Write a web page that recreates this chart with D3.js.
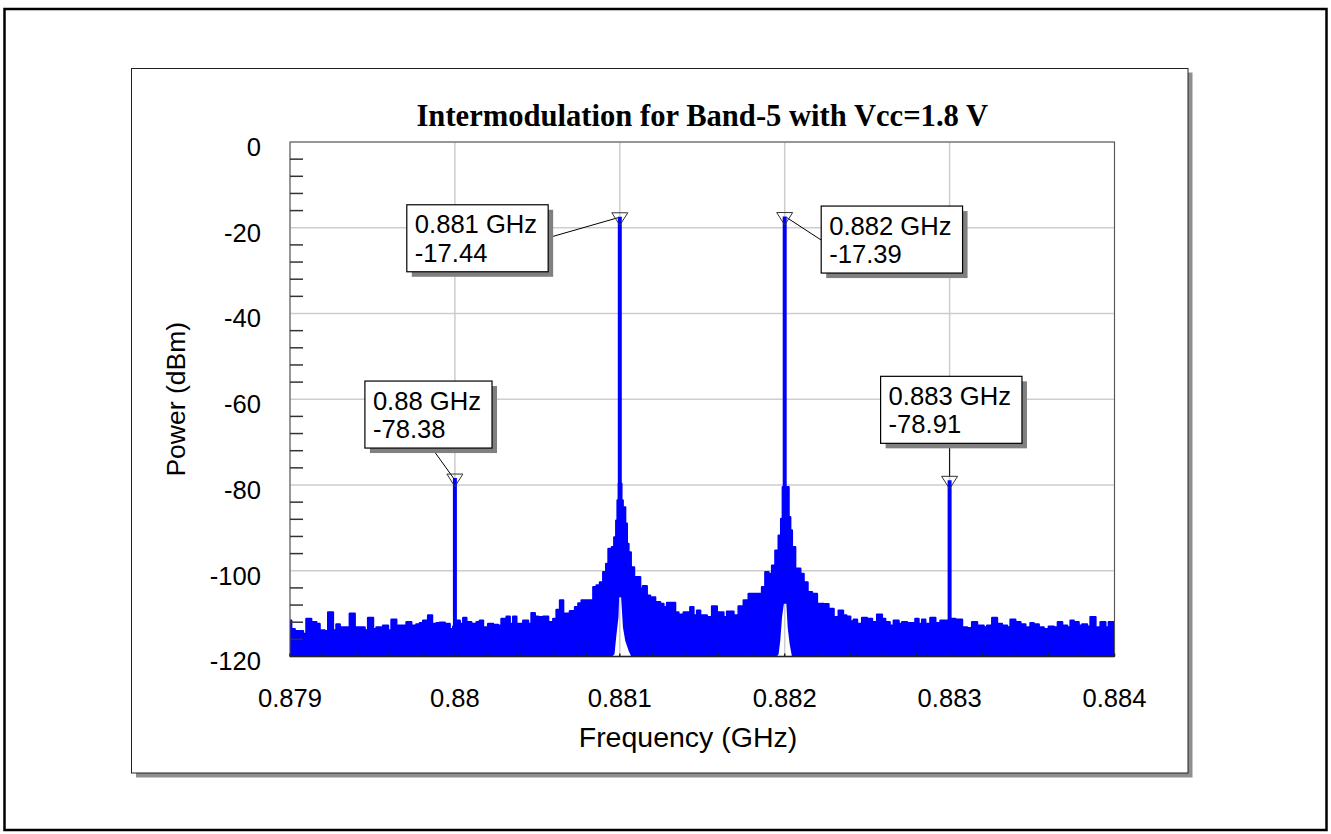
<!DOCTYPE html>
<meta charset="utf-8">
<style>
body { margin: 0; background: white; }
svg { font-family: "Liberation Sans", Arial, sans-serif; }
</style>
<body>
<script src="https://d3js.org/d3.v7.min.js"></script>
<script>

// axis ticks
const freqTicks = [0.879, 0.880, 0.881, 0.882, 0.883, 0.884];
const powerTicks = [0, -20, -40, -60, -80, -100, -120];

// marker readouts (tone peaks)
const markerFreq = [0.880, 0.881, 0.882, 0.883];
const markerPower = [-78.38, -17.44, -17.39, -78.91];
const markerText = ["0.88 GHz", "0.881 GHz", "0.882 GHz", "0.883 GHz"];

// top of the spectrum trace (noise floor + skirts), GHz / dBm
const noiseFreq = [
  0.879000, 0.879008, 0.879029, 0.879079, 0.879099, 0.879129, 0.879160, 0.879180, 0.879211, 0.879231,
  0.879261, 0.879281, 0.879302, 0.879362, 0.879393, 0.879453, 0.879473, 0.879504, 0.879524, 0.879564,
  0.879595, 0.879615, 0.879645, 0.879706, 0.879736, 0.879766, 0.879787, 0.879807, 0.879837, 0.879862,
  0.879888, 0.879908, 0.879939, 0.879969, 0.879989, 0.880013, 0.880030, 0.880050, 0.880070, 0.880100,
  0.880131, 0.880151, 0.880171, 0.880201, 0.880232, 0.880262, 0.880282, 0.880313, 0.880333, 0.880353,
  0.880373, 0.880414, 0.880444, 0.880464, 0.880485, 0.880505, 0.880535, 0.880566, 0.880596, 0.880616,
  0.880637, 0.880657, 0.880697, 0.880728, 0.880748, 0.880768, 0.880839, 0.880859, 0.880879, 0.880899,
  0.880917, 0.880931, 0.880952, 0.880966, 0.880978, 0.880986, 0.880994, 0.881010, 0.881018, 0.881033,
  0.881043, 0.881053, 0.881067, 0.881087, 0.881124, 0.881140, 0.881164, 0.881184, 0.881215, 0.881245,
  0.881265, 0.881286, 0.881336, 0.881356, 0.881387, 0.881417, 0.881427, 0.881447, 0.881468, 0.881488,
  0.881528, 0.881559, 0.881589, 0.881629, 0.881650, 0.881690, 0.881720, 0.881751, 0.881781, 0.881862,
  0.881882, 0.881902, 0.881923, 0.881943, 0.881963, 0.881978, 0.881988, 0.882024, 0.882034, 0.882044,
  0.882064, 0.882095, 0.882115, 0.882139, 0.882166, 0.882196, 0.882236, 0.882266, 0.882297, 0.882327,
  0.882354, 0.882374, 0.882398, 0.882418, 0.882439, 0.882469, 0.882499, 0.882530, 0.882560, 0.882590,
  0.882610, 0.882637, 0.882661, 0.882691, 0.882712, 0.882742, 0.882792, 0.882812, 0.882833, 0.882853,
  0.882883, 0.882914, 0.882944, 0.883011, 0.883035, 0.883076, 0.883106, 0.883136, 0.883167, 0.883207,
  0.883227, 0.883258, 0.883288, 0.883318, 0.883349, 0.883369, 0.883399, 0.883430, 0.883460, 0.883490,
  0.883510, 0.883541, 0.883571, 0.883601, 0.883632, 0.883656, 0.883683, 0.883713, 0.883733, 0.883753,
  0.883783, 0.883804, 0.883834, 0.883854, 0.883885, 0.883915, 0.883945, 0.883965, 0.884000
];
const noiseTop = [
  -111.6, -113.6, -114.1, -114.7, -111.2, -112.0, -112.4, -113.9, -114.1, -109.7,
  -113.9, -112.5, -113.2, -110.0, -113.2, -113.9, -111.0, -113.6, -113.2, -112.8,
  -113.9, -111.4, -112.8, -112.0, -112.8, -112.5, -112.2, -111.6, -110.4, -112.4,
  -112.2, -112.1, -112.4, -113.6, -113.0, -111.6, -112.4, -111.0, -112.0, -112.4,
  -112.0, -111.6, -113.2, -112.4, -112.6, -112.8, -111.2, -110.7, -112.4, -110.7,
  -112.4, -111.6, -112.4, -109.9, -110.7, -110.8, -110.7, -112.0, -111.2, -109.1,
  -106.9, -110.0, -109.4, -108.5, -107.6, -106.9, -103.8, -103.4, -102.7, -100.3,
  -98.4, -94.9, -94.5, -92.2, -88.3, -83.6, -79.7, -83.6, -85.2, -89.0,
  -93.7, -95.7, -99.2, -101.5, -104.2, -103.6, -105.8, -106.2, -107.3, -107.7,
  -108.5, -107.5, -109.7, -110.2, -109.7, -110.4, -108.5, -110.4, -109.3, -110.4,
  -110.8, -108.3, -109.7, -110.8, -109.5, -110.4, -108.3, -106.9, -105.4, -103.8,
  -100.3, -100.7, -98.8, -95.3, -91.8, -87.9, -80.5, -87.5, -90.6, -94.5,
  -99.5, -100.7, -102.7, -105.0, -105.4, -107.7, -107.8, -108.9, -110.8, -109.3,
  -110.4, -110.7, -111.8, -111.4, -112.4, -111.0, -111.2, -112.0, -110.2, -111.2,
  -112.0, -112.8, -111.6, -112.4, -112.0, -112.2, -111.2, -112.4, -111.4, -112.4,
  -111.0, -112.2, -111.6, -111.2, -111.4, -113.2, -113.4, -112.0, -112.8, -113.2,
  -112.8, -111.0, -112.4, -112.8, -113.2, -111.4, -112.0, -112.5, -113.2, -112.2,
  -112.5, -113.2, -113.6, -113.0, -113.2, -112.0, -112.8, -113.2, -111.6, -112.0,
  -112.8, -112.5, -113.0, -110.8, -113.2, -112.0, -113.2, -112.0, -112.0
];

// lowest level the trace reaches right next to the two main tones
const floorFreq = [
  0.880954, 0.880968, 0.880978, 0.880992, 0.880996, 0.881008, 0.881019, 0.881033, 0.881053, 0.881069,
  0.881952, 0.881963, 0.881973, 0.881984, 0.881995, 0.882010, 0.882018, 0.882030, 0.882044
];
const floorPower = [
  -120, -119.4, -115.5, -110.8, -106.2, -106.2, -113.2, -116.3, -118.6, -120,
  -120, -119.5, -116.3, -110.8, -107.7, -107.7, -113.2, -117.1, -120
];

const width = 1331, height = 834;
const plot = {left: 290, right: 1114.5, top: 142, bottom: 656.5};
const blue = "#0000ff";
const labelSize = 25.6;

const svg = d3.select("body").append("svg")
    .attr("width", width)
    .attr("height", height);

// page border
svg.append("rect")
    .attr("x", 4.5).attr("y", 9)
    .attr("width", 1322).attr("height", 821)
    .attr("fill", "none").attr("stroke", "#000").attr("stroke-width", 2.5);

// chart frame with drop shadow
svg.append("rect")
    .attr("x", 136).attr("y", 72.5)
    .attr("width", 1056.5).attr("height", 705)
    .attr("fill", "#8f8f8f");
svg.append("rect")
    .attr("x", 131.5).attr("y", 68.5)
    .attr("width", 1056.5).attr("height", 704.5)
    .attr("fill", "white").attr("stroke", "#222").attr("stroke-width", 1);

const x = d3.scaleLinear().domain([0.879, 0.884]).range([plot.left, plot.right]);
const y = d3.scaleLinear().domain([-120, 0]).range([plot.bottom, plot.top]);

const defs = svg.append("defs");
defs.append("clipPath").attr("id", "plotClip")
  .append("rect")
    .attr("x", plot.left).attr("y", plot.top)
    .attr("width", plot.right - plot.left).attr("height", plot.bottom - plot.top);

// mask that cuts the white notch under each main tone
const mask = defs.append("mask").attr("id", "floorMask")
    .attr("maskUnits", "userSpaceOnUse")
    .attr("x", 0).attr("y", 0).attr("width", width).attr("height", height);
mask.append("rect").attr("width", width).attr("height", height).attr("fill", "white");
mask.append("path")
    .datum(d3.zip(floorFreq, floorPower))
    .attr("fill", "black")
    .attr("d", d3.area()
      .x(d => x(d[0]))
      .y0(y(-120) + 1)
      .y1(d => y(d[1])));

// grid
const grid = svg.append("g").attr("stroke", "#cdcdcd").attr("stroke-width", 1.5);
grid.selectAll("line.v").data(freqTicks).join("line")
    .attr("class", "v")
    .attr("x1", d => x(d)).attr("x2", d => x(d))
    .attr("y1", plot.top).attr("y2", plot.bottom);
grid.selectAll("line.h").data(powerTicks).join("line")
    .attr("class", "h")
    .attr("x1", plot.left).attr("x2", plot.right)
    .attr("y1", d => y(d)).attr("y2", d => y(d));

// spectrum
const noise = d3.zip(noiseFreq, noiseTop);
const spec = svg.append("g")
    .attr("clip-path", "url(#plotClip)")
  .append("g")
    .attr("mask", "url(#floorMask)");

spec.append("path")
    .datum(noise)
    .attr("fill", blue)
    .attr("d", d3.area()
      .x(d => x(d[0]))
      .y0(plot.bottom + 2)
      .y1(d => y(d[1]))
      .curve(d3.curveStepAfter));

spec.append("path")
    .datum(noise)
    .attr("fill", "none")
    .attr("stroke", blue)
    .attr("stroke-width", 2.2)
    .attr("stroke-linejoin", "round")
    .attr("d", d3.line()
      .x(d => x(d[0]))
      .y(d => y(d[1]))
      .curve(d3.curveStepAfter));

spec.selectAll("line.tone").data(d3.zip(markerFreq, markerPower)).join("line")
    .attr("class", "tone")
    .attr("x1", d => x(d[0])).attr("x2", d => x(d[0]))
    .attr("y1", d => y(d[1])).attr("y2", plot.bottom + 2)
    .attr("stroke", blue)
    .attr("stroke-width", 4);

// plot frame
svg.append("rect")
    .attr("x", plot.left).attr("y", plot.top)
    .attr("width", plot.right - plot.left).attr("height", plot.bottom - plot.top)
    .attr("fill", "none").attr("stroke", "#555").attr("stroke-width", 1);
svg.append("line")
    .attr("x1", plot.left).attr("x2", plot.right)
    .attr("y1", plot.bottom).attr("y2", plot.bottom)
    .attr("stroke", "#222").attr("stroke-width", 1.5);

// minor ticks on the left edge, every 4 dB
const yMinor = d3.range(-116, 0, 4).filter(v => v % 20 !== 0);
svg.append("g").selectAll("line").data(yMinor).join("line")
    .attr("x1", plot.left).attr("x2", plot.left + 13)
    .attr("y1", d => y(d)).attr("y2", d => y(d))
    .attr("stroke", "#333").attr("stroke-width", 1.5);

// small ticks along the bottom edge
const xMinor = d3.range(0, 26).map(i => 0.879 + i * 0.0002);
svg.append("g").selectAll("line").data(xMinor).join("line")
    .attr("x1", d => x(d)).attr("x2", d => x(d))
    .attr("y1", plot.bottom).attr("y2", plot.bottom - 3)
    .attr("stroke", "#222").attr("stroke-width", 1.5);

// tick labels
svg.append("g").selectAll("text").data(powerTicks).join("text")
    .attr("x", 261)
    .attr("y", d => y(d) + 13.8)
    .attr("text-anchor", "end")
    .attr("font-size", labelSize)
    .text(d => d);

svg.append("g").selectAll("text").data(freqTicks).join("text")
    .attr("x", d => x(d))
    .attr("y", 706.5)
    .attr("text-anchor", "middle")
    .attr("font-size", labelSize)
    .text(d => d3.format("~g")(d));

// titles
svg.append("text")
    .attr("x", (plot.left + plot.right) / 2)
    .attr("y", 126)
    .attr("text-anchor", "middle")
    .style("font-family", "'Liberation Serif', 'Times New Roman', serif")
    .style("font-weight", "bold")
    .attr("font-size", 30.6)
    .text("Intermodulation for Band-5 with Vcc=1.8 V");

svg.append("text")
    .attr("x", 688)
    .attr("y", 747)
    .attr("text-anchor", "middle")
    .attr("font-size", 28.5)
    .text("Frequency (GHz)");

svg.append("text")
    .attr("transform", "translate(184.5," + (plot.top + plot.bottom) / 2 + ") rotate(-90)")
    .attr("text-anchor", "middle")
    .attr("font-size", 26.5)
    .text("Power (dBm)");

// marker readout boxes: offset of box from the marker point, and where the leader meets the box
const boxOffset = [[-90, -97], [-213, -12], [36.5, -10.5], [-69, -104]];
const leaderSide = ["bottom", "right", "left", "bottomCenter"];
const boxH = 67;

markerFreq.forEach((f, i) => {
  const mx = x(f), my = y(markerPower[i]);
  const g = svg.append("g");
  const bx = mx + boxOffset[i][0], by = my + boxOffset[i][1];

  const label = g.append("text")
      .attr("font-size", labelSize)
      .attr("x", bx + 8);
  label.append("tspan").attr("x", bx + 8).attr("y", by + 28.5).text(markerText[i]);
  label.append("tspan").attr("x", bx + 8).attr("y", by + 57).text(markerPower[i].toFixed(2));
  const bw = label.node().getBBox().width + 19;

  let lx, ly, ex = mx, ey = my + 1;
  if (leaderSide[i] === "right") { lx = bx + bw; ly = by + 33; ex = mx - 2; }
  else if (leaderSide[i] === "left") { lx = bx; ly = by + 34; ex = mx + 2; }
  else if (leaderSide[i] === "bottom") { lx = bx + 67; ly = by + boxH; ey = my + 2; }
  else { lx = mx; ly = by + boxH; ey = my - 4; }

  g.insert("line", "text")
      .attr("x1", lx).attr("y1", ly).attr("x2", ex).attr("y2", ey)
      .attr("stroke", "#000").attr("stroke-width", 1);
  g.insert("rect", "text")
      .attr("x", bx + 5).attr("y", by + 5)
      .attr("width", bw).attr("height", boxH)
      .attr("fill", "#808080");
  g.insert("rect", "text")
      .attr("x", bx).attr("y", by)
      .attr("width", bw).attr("height", boxH)
      .attr("fill", "white").attr("stroke", "#000").attr("stroke-width", 1.2);

  // marker triangle
  svg.append("path")
      .attr("d", "M" + (mx - 8) + "," + (my - 4) + "L" + (mx + 8) + "," + (my - 4) + "L" + mx + "," + (my + 8.5) + "Z")
      .attr("fill", "none")
      .attr("stroke", "#333")
      .attr("stroke-width", 1);
});

</script>
</body>
